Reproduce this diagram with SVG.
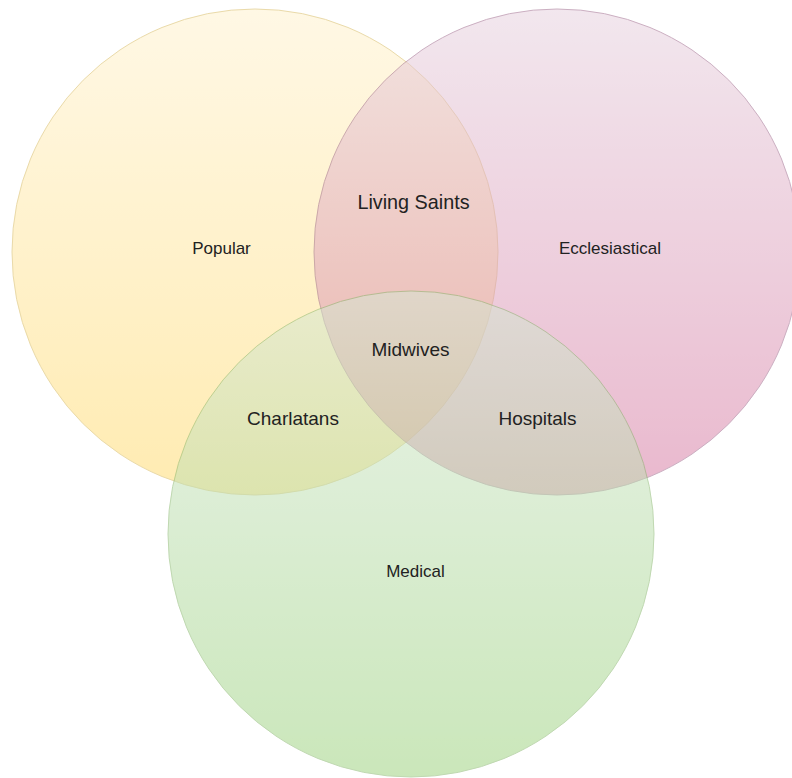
<svg xmlns="http://www.w3.org/2000/svg" width="792" height="778" viewBox="0 0 792 778">
  <defs>
    <linearGradient id="gYellow" x1="0" y1="0" x2="0" y2="1">
      <stop offset="0" stop-color="#fff2cc"/>
      <stop offset="1" stop-color="#ffd966"/>
    </linearGradient>
    <linearGradient id="gPink" x1="0" y1="0" x2="0" y2="1">
      <stop offset="0" stop-color="#e6d0de"/>
      <stop offset="1" stop-color="#d5739d"/>
    </linearGradient>
    <linearGradient id="gGreen" x1="0" y1="0" x2="0" y2="1">
      <stop offset="0" stop-color="#d5e8d4"/>
      <stop offset="1" stop-color="#97d077"/>
    </linearGradient>
  </defs>
  <style>
    .set { opacity: 0.5; stroke-width: 1; }
    .lbl { font-family: "Liberation Sans", Arial, sans-serif; fill: #222222; text-anchor: middle; }
    .name { font-size: 17px; }
    .inter { font-size: 19px; }
  </style>
  <rect width="792" height="778" fill="#ffffff"/>
  <g id="popular">
    <circle class="set" cx="255" cy="252" r="243" fill="url(#gYellow)" stroke="#d6b656"/>
  </g>
  <g id="ecclesiastical">
    <circle class="set" cx="557" cy="252" r="243" fill="url(#gPink)" stroke="#996185"/>
  </g>
  <g id="medical">
    <circle class="set" cx="411" cy="534" r="243" fill="url(#gGreen)" stroke="#82b366"/>
  </g>
  <g id="labels">
    <text class="lbl name" x="221.5" y="254">Popular</text>
    <text class="lbl name" x="610" y="254">Ecclesiastical</text>
    <text class="lbl name" x="415.5" y="577">Medical</text>
    <text class="lbl inter" x="413.5" y="209" style="font-size:19.8px">Living Saints</text>
    <text class="lbl inter" x="410.5" y="356">Midwives</text>
    <text class="lbl inter" x="293" y="425">Charlatans</text>
    <text class="lbl inter" x="537.5" y="425">Hospitals</text>
  </g>
  <g id="connectors"/>
</svg>
